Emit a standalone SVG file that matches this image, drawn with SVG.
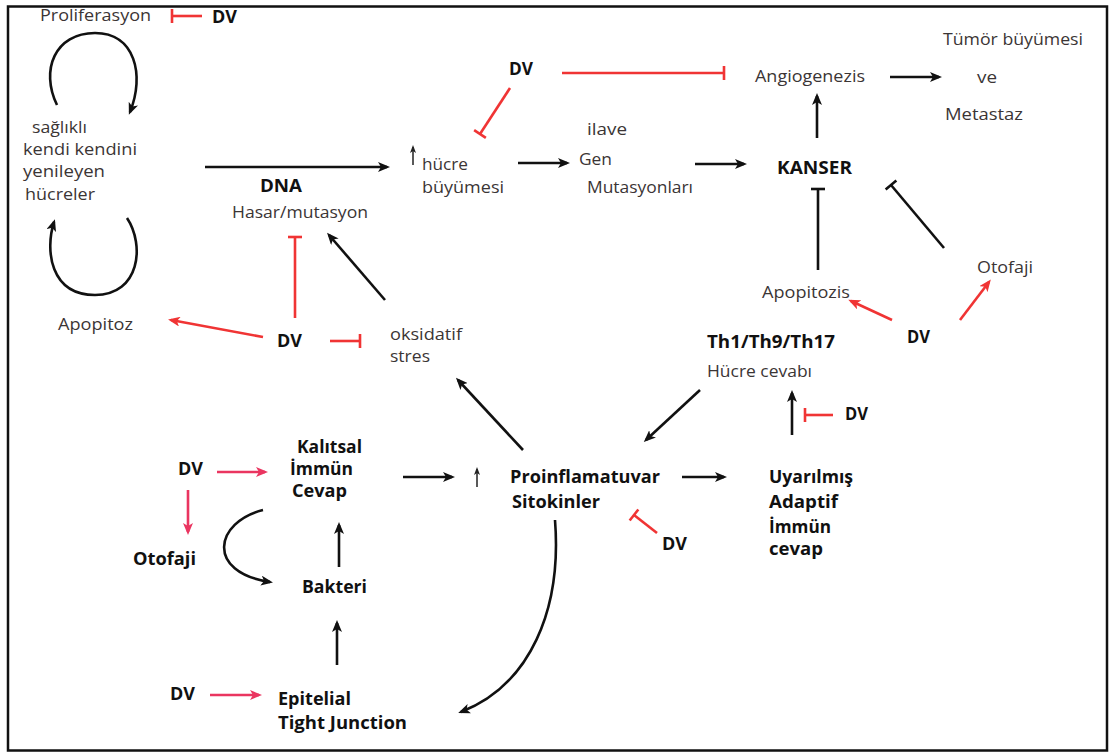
<svg xmlns="http://www.w3.org/2000/svg" width="1115" height="752" viewBox="0 0 1115 752">
<style>
text{font-family:"Open Sans","Noto Sans","Liberation Sans",sans-serif;font-size:16px;fill:#3b3535}
.b{font-weight:bold;font-size:17px;fill:#111}
.k{fill:none;stroke:#111;stroke-width:2.6}
.r{fill:none;stroke:#f03434;stroke-width:2.6}
.p{fill:none;stroke:#ea3560;stroke-width:2.6}
</style>
<defs>
<marker id="ak" viewBox="0 0 12 10" refX="9" refY="5" markerWidth="12" markerHeight="10" markerUnits="userSpaceOnUse" orient="auto"><path d="M0,0 L12,5 L0,10 L3,5 z" fill="#111"/></marker>
<marker id="ar" viewBox="0 0 12 10" refX="9" refY="5" markerWidth="12" markerHeight="10" markerUnits="userSpaceOnUse" orient="auto"><path d="M0,0 L12,5 L0,10 L3,5 z" fill="#f03434"/></marker>
<marker id="ap" viewBox="0 0 12 10" refX="9" refY="5" markerWidth="12" markerHeight="10" markerUnits="userSpaceOnUse" orient="auto"><path d="M0,0 L12,5 L0,10 L3,5 z" fill="#ea3560"/></marker>
<marker id="as" viewBox="0 0 8 6" refX="6" refY="3" markerWidth="8" markerHeight="6" markerUnits="userSpaceOnUse" orient="auto"><path d="M0,0 L8,3 L0,6 L2,3 z" fill="#222"/></marker>
<marker id="tk" viewBox="0 -8 4 16" refX="2" refY="0" markerWidth="4" markerHeight="16" markerUnits="userSpaceOnUse" orient="auto"><rect x="0.7" y="-7" width="2.6" height="14" fill="#111"/></marker>
<marker id="tr" viewBox="0 -8 4 16" refX="2" refY="0" markerWidth="4" markerHeight="16" markerUnits="userSpaceOnUse" orient="auto"><rect x="0.7" y="-7" width="2.6" height="14" fill="#f03434"/></marker>
</defs>
<rect x="8" y="6.5" width="1099" height="744" fill="#fff" stroke="#111" stroke-width="2.5"/>
<g id="connectors">
<path class="k" d="M57,105 C40,70 55,33 95,33 C135,33 145,75 130,112" marker-end="url(#ak)" stroke-width="3"/>
<path class="k" d="M127,218 C145,245 140,295 95,295 C50,295 45,250 54,222" marker-end="url(#ak)" stroke-width="3"/>
<path class="k" d="M205,167 L387,167" marker-end="url(#ak)"/>
<path class="k" d="M385,300 L329,235" marker-end="url(#ak)"/>
<path class="k" d="M523,450 L458,380" marker-end="url(#ak)"/>
<path class="k" d="M518,163 L567,163" marker-end="url(#ak)"/>
<path class="k" d="M695,164 L744,164" marker-end="url(#ak)"/>
<path class="k" d="M890,77 L939,77" marker-end="url(#ak)"/>
<path class="k" d="M817,138 L817,96" marker-end="url(#ak)"/>
<path class="k" d="M700,390 L646,440" marker-end="url(#ak)"/>
<path class="k" d="M792,435 L792,393" marker-end="url(#ak)"/>
<path class="k" d="M403,477 L452,477" marker-end="url(#ak)"/>
<path class="k" d="M682,477 L724,477" marker-end="url(#ak)"/>
<path class="k" d="M339,567 L339,525" marker-end="url(#ak)"/>
<path class="k" d="M337,665 L337,623" marker-end="url(#ak)"/>
<path class="k" d="M263,510 C215,522 205,572 270,582" marker-end="url(#ak)"/>
<path class="k" d="M555,520 C562,610 530,685 461,712" marker-end="url(#ak)"/>
<path fill="none" stroke="#222" stroke-width="1.5" d="M413,165 L413,147" marker-end="url(#as)"/>
<path fill="none" stroke="#222" stroke-width="1.5" d="M477,487 L477,469" marker-end="url(#as)"/>
<path class="k" d="M818,270 L818,189" marker-end="url(#tk)"/>
<path class="k" d="M944,248 L891,185" marker-end="url(#tk)"/>
<path class="r" d="M202,16 L172,16" marker-end="url(#tr)"/>
<path class="r" d="M295,318 L295,237" marker-end="url(#tr)"/>
<path class="r" d="M330,341 L360,341" marker-end="url(#tr)"/>
<path class="r" d="M562,73 L724,73" marker-end="url(#tr)"/>
<path class="r" d="M510,88 L480,134" marker-end="url(#tr)"/>
<path class="r" d="M833,415 L805,415" marker-end="url(#tr)"/>
<path class="r" d="M657,533 L634,515" marker-end="url(#tr)"/>
<path class="r" d="M263,337 L171,320" marker-end="url(#ar)"/>
<path class="r" d="M892,320 L851,301" marker-end="url(#ar)"/>
<path class="r" d="M960,320 L989,282" marker-end="url(#ar)"/>
<path class="p" d="M217,472 L265,472" marker-end="url(#ap)"/>
<path class="p" d="M188,490 L188,532" marker-end="url(#ap)"/>
<path class="p" d="M210,695 L259,695" marker-end="url(#ap)"/>
</g>
<g id="n-proliferasyon"><text x="40" y="21" textLength="111" lengthAdjust="spacingAndGlyphs">Proliferasyon</text></g>
<g id="n-dv1"><text class="b" x="212" y="23" textLength="25" lengthAdjust="spacingAndGlyphs">DV</text></g>
<g id="n-saglikli">
<text x="32" y="133" textLength="55" lengthAdjust="spacingAndGlyphs">sağlıklı</text>
<text x="23" y="155" textLength="114" lengthAdjust="spacingAndGlyphs">kendi kendini</text>
<text x="23" y="177" textLength="82" lengthAdjust="spacingAndGlyphs">yenileyen</text>
<text x="25" y="200" textLength="70" lengthAdjust="spacingAndGlyphs">hücreler</text>
</g>
<g id="n-dna">
<text class="b" x="260" y="192" textLength="42" lengthAdjust="spacingAndGlyphs">DNA</text>
<text x="232" y="218" textLength="136" lengthAdjust="spacingAndGlyphs">Hasar/mutasyon</text>
</g>
<g id="n-apopitoz"><text x="58" y="330" textLength="75" lengthAdjust="spacingAndGlyphs">Apopitoz</text></g>
<g id="n-dv2"><text class="b" x="277" y="347" textLength="25" lengthAdjust="spacingAndGlyphs">DV</text></g>
<g id="n-oksidatif">
<text x="390" y="340" textLength="72" lengthAdjust="spacingAndGlyphs">oksidatif</text>
<text x="390" y="362" textLength="40" lengthAdjust="spacingAndGlyphs">stres</text>
</g>
<g id="n-dv3"><text class="b" x="509" y="75" textLength="24" lengthAdjust="spacingAndGlyphs">DV</text></g>
<g id="n-hucre">
<text x="422" y="170" textLength="46" lengthAdjust="spacingAndGlyphs">hücre</text>
<text x="422" y="193" textLength="82" lengthAdjust="spacingAndGlyphs">büyümesi</text>
</g>
<g id="n-gen">
<text x="587" y="135" textLength="40" lengthAdjust="spacingAndGlyphs">ilave</text>
<text x="579" y="165" textLength="33" lengthAdjust="spacingAndGlyphs">Gen</text>
<text x="587" y="193" textLength="106" lengthAdjust="spacingAndGlyphs">Mutasyonları</text>
</g>
<g id="n-angio"><text x="755" y="82" textLength="110" lengthAdjust="spacingAndGlyphs">Angiogenezis</text></g>
<g id="n-tumor">
<text x="943" y="45" textLength="140" lengthAdjust="spacingAndGlyphs">Tümör büyümesi</text>
<text x="977" y="83" textLength="20" lengthAdjust="spacingAndGlyphs">ve</text>
<text x="945" y="120" textLength="78" lengthAdjust="spacingAndGlyphs">Metastaz</text>
</g>
<g id="n-kanser"><text class="b" x="777" y="174" textLength="75" lengthAdjust="spacingAndGlyphs">KANSER</text></g>
<g id="n-otofaji1"><text x="977" y="273" textLength="56" lengthAdjust="spacingAndGlyphs">Otofaji</text></g>
<g id="n-apopitozis"><text x="762" y="298" textLength="88" lengthAdjust="spacingAndGlyphs">Apopitozis</text></g>
<g id="n-dv4"><text class="b" x="907" y="343" textLength="23" lengthAdjust="spacingAndGlyphs">DV</text></g>
<g id="n-th">
<text class="b" x="707" y="348" textLength="128" lengthAdjust="spacingAndGlyphs">Th1/Th9/Th17</text>
<text x="707" y="377" textLength="105" lengthAdjust="spacingAndGlyphs">Hücre cevabı</text>
</g>
<g id="n-dv5"><text class="b" x="845" y="420" textLength="23" lengthAdjust="spacingAndGlyphs">DV</text></g>
<g id="n-proinf">
<text class="b" x="510" y="483" textLength="150" lengthAdjust="spacingAndGlyphs">Proinflamatuvar</text>
<text class="b" x="512" y="508" textLength="88" lengthAdjust="spacingAndGlyphs">Sitokinler</text>
</g>
<g id="n-uyarilmis">
<text class="b" x="769" y="483" textLength="84" lengthAdjust="spacingAndGlyphs">Uyarılmış</text>
<text class="b" x="769" y="508" textLength="69" lengthAdjust="spacingAndGlyphs">Adaptif</text>
<text class="b" x="769" y="533" textLength="62" lengthAdjust="spacingAndGlyphs">İmmün</text>
<text class="b" x="769" y="555" textLength="54" lengthAdjust="spacingAndGlyphs">cevap</text>
</g>
<g id="n-dv6"><text class="b" x="662" y="550" textLength="25" lengthAdjust="spacingAndGlyphs">DV</text></g>
<g id="n-kalitsal">
<text class="b" x="297" y="453" textLength="65" lengthAdjust="spacingAndGlyphs">Kalıtsal</text>
<text class="b" x="290" y="475" textLength="63" lengthAdjust="spacingAndGlyphs">İmmün</text>
<text class="b" x="292" y="497" textLength="55" lengthAdjust="spacingAndGlyphs">Cevap</text>
</g>
<g id="n-dv7"><text class="b" x="178" y="475" textLength="25" lengthAdjust="spacingAndGlyphs">DV</text></g>
<g id="n-otofaji2"><text class="b" x="133" y="565" textLength="63" lengthAdjust="spacingAndGlyphs">Otofaji</text></g>
<g id="n-bakteri"><text class="b" x="302" y="593" textLength="65" lengthAdjust="spacingAndGlyphs">Bakteri</text></g>
<g id="n-dv8"><text class="b" x="170" y="700" textLength="25" lengthAdjust="spacingAndGlyphs">DV</text></g>
<g id="n-epitelial">
<text class="b" x="278" y="705" textLength="73" lengthAdjust="spacingAndGlyphs">Epitelial</text>
<text class="b" x="278" y="729" textLength="129" lengthAdjust="spacingAndGlyphs">Tight Junction</text>
</g>
</svg>
